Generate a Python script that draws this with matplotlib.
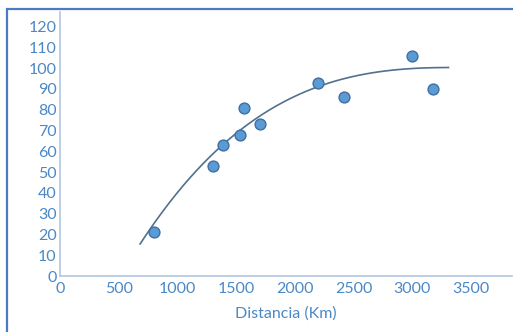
import numpy as np
import matplotlib
matplotlib.use("Agg")
import matplotlib.pyplot as plt
from matplotlib.patches import Rectangle

# Data
distancia_km = [800, 1300, 1390, 1530, 1570, 1700, 2200, 2420, 3000, 3175]
valores = [21, 53, 63, 68, 81, 73, 93, 86, 106, 90]
x_ticks = [0, 500, 1000, 1500, 2000, 2500, 3000, 3500]
y_ticks = [0, 10, 20, 30, 40, 50, 60, 70, 80, 90, 100, 110, 120]
x_label = "Distancia (Km)"
# polynomial (order 3) trendline as shown in the chart, x in km
trend_coef = [3.226e-9, -3.582e-5, 0.13117, -58.42]
trend_range = [682, 3308]

W, H = 513, 332
fig = plt.figure(figsize=(W / 100, H / 100), dpi=100)
fig.patch.set_facecolor("white")

# outer chart frame (extends beyond right/bottom edges)
fig.patches.append(Rectangle((7 / W, -0.1), 1.2, (H - 9) / H + 0.1,
                             transform=fig.transFigure, fill=False,
                             edgecolor="#4a7bc8", linewidth=1.6, clip_on=False))

left_px, right_px, top_px, bottom_px = 60, 512, 12, 276
ax = fig.add_axes([left_px / W, (H - bottom_px) / H,
                   (right_px - left_px) / W, (bottom_px - top_px) / H])

txt_color = "#4a88c6"
axis_color = "#b3c6e0"
font = ["Lato", "DejaVu Sans"]

x = np.array(distancia_km, dtype=float)
y = np.array(valores, dtype=float)
xs = np.linspace(trend_range[0], trend_range[1], 300)
ax.plot(xs, np.polyval(trend_coef, xs), color="#52708f", linewidth=1.2, zorder=2)

ax.plot(x, y, linestyle="none", marker="o", markersize=7.8,
        markerfacecolor="#5b9bd5", markeredgecolor="#3f6fa0",
        markeredgewidth=1.0, zorder=3)

ax.set_xlim(0, 3849)
ax.set_ylim(0, 127)
ax.set_xticks(x_ticks)
ax.set_yticks(y_ticks)
ax.set_xticklabels([str(t) for t in x_ticks], family=font, fontsize=11.5, color=txt_color)
ax.set_yticklabels([str(t) for t in y_ticks], family=font, fontsize=11.5, color=txt_color)
ax.tick_params(axis="both", length=0)
ax.tick_params(axis="y", pad=2.5)
ax.tick_params(axis="x", pad=4)

for s in ["top", "right"]:
    ax.spines[s].set_visible(False)
for s in ["left", "bottom"]:
    ax.spines[s].set_color(axis_color)
    ax.spines[s].set_linewidth(1.2)

ax.set_xlabel(x_label, family=font, fontsize=11.5, color=txt_color, labelpad=8)

fig.savefig("out.png", dpi=100, facecolor="white")
